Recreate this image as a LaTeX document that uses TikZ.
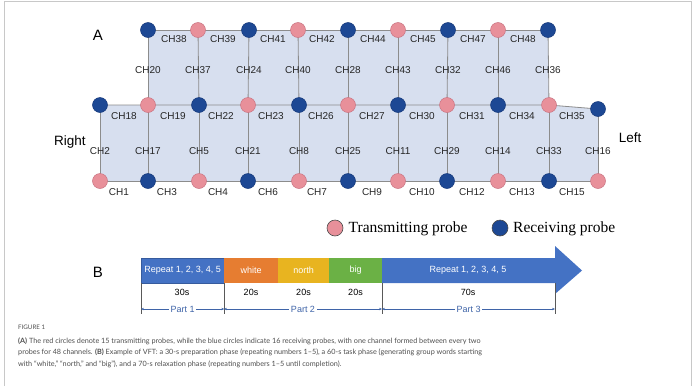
\documentclass[tikz,border=0pt]{standalone}
\usepackage{fontspec}
\setmainfont{Liberation Sans}
\newfontfamily\legfont{Liberation Serif}
\newfontfamily\capfont{Lato}
\usetikzlibrary{arrows.meta}
\definecolor{pinkc}{HTML}{E8909A}
\definecolor{pinkd}{HTML}{C97482}
\definecolor{bluec}{HTML}{1D4894}
\definecolor{blued}{HTML}{15387A}
\definecolor{regfill}{HTML}{D7DFEF}
\definecolor{gridline}{HTML}{8C8C8C}
\definecolor{barblue}{HTML}{4472C4}
\definecolor{barorange}{HTML}{E67D31}
\definecolor{baryellow}{HTML}{E8B420}
\definecolor{bargreen}{HTML}{6BB145}
\definecolor{partblue}{HTML}{3F64A8}
\definecolor{capgray}{HTML}{4E4E4E}
\definecolor{framegray}{HTML}{C8C8C8}
\pgfdeclarelayer{background}
\pgfsetlayers{background,main}
\tikzset{
  tx/.style={circle, fill=pinkc, draw=pinkd, line width=0.5pt, minimum size=15pt, inner sep=0pt},
  rx/.style={circle, fill=bluec, draw=blued, line width=0.5pt, minimum size=15pt, inner sep=0pt},
  chlab/.style={font=\fontsize{10}{12}\selectfont, inner sep=0pt, text=black!85},
  gline/.style={draw=gridline, line width=0.8pt},
  bar/.style={minimum height=25pt, inner sep=0pt, anchor=west, text=white, font=\fontsize{9}{11}\selectfont},
  tlab/.style={font=\fontsize{9}{11}\selectfont, inner sep=0pt},
  tick/.style={draw=black!65, line width=0.6pt},
  parr/.style={draw=partblue, line width=0.45pt, {Stealth[length=3pt,width=2.4pt]}-{Stealth[length=3pt,width=2.4pt]}},
  plab/.style={fill=white, text=partblue, font=\fontsize{9}{11}\selectfont, inner sep=1.5pt},
  caplab/.style={anchor=west, inner sep=0pt, text=capgray, font=\capfont\fontsize{7.25}{8.5}\selectfont},
  legtext/.style={anchor=west, inner sep=0pt, font=\legfont\fontsize{15.5}{18}\selectfont},
}
\begin{document}
\begin{tikzpicture}[x=1pt,y=-1pt]
\useasboundingbox (0,0) rectangle (693,386);
\draw[framegray, line width=0.8pt] (4,386) -- (4,1.5) -- (691,1.5) -- (691,386);

% ---------- A: probes ----------
\node[font=\fontsize{15}{18}\selectfont, inner sep=0pt] (labA) at (98,35) {A};
\node[font=\fontsize{13.5}{16}\selectfont, inner sep=0pt] (labR) at (70,142) {Right};
\node[font=\fontsize{13.5}{16}\selectfont, inner sep=0pt] (labL) at (630,138) {Left};

\foreach \x/\s [count=\i] in {148/rx,198/tx,249/rx,298/tx,348/rx,398/tx,448/rx,498/tx,548/rx}
  \node[\s] (u\i) at (\x,30) {};
\foreach \x/\s [count=\i] in {100/rx,148/tx,199/rx,248/tx,299/rx,348/tx,398/rx,447/tx,498/rx,549/tx}
  \node[\s] (m\i) at (\x,105) {};
\node[rx] (m11) at (598,109) {};
\foreach \x/\s [count=\i] in {100/tx,148/rx,199/tx,248/rx,299/tx,348/rx,398/tx,447/rx,498/tx,549/rx,598/tx}
  \node[\s] (b\i) at (\x,181) {};

\begin{pgfonlayer}{background}
  \fill[regfill] (u1.center) -- (u9.center) -- (m10.center) -- (m11.center) -- (b11.center)
     -- (b1.center) -- (m1.center) -- (m2.center) -- cycle;
  \draw[gline] (u1.center) -- (u9.center);
  \draw[gline] (m1.center) -- (m10.center) -- (m11.center);
  \draw[gline] (b1.center) -- (b11.center);
  \foreach \i [evaluate=\i as \j using int(\i+1)] in {1,...,9}
    \draw[gline] (u\i.center) -- (m\j.center);
  \foreach \i in {1,...,11}
    \draw[gline] (m\i.center) -- (b\i.center);
\end{pgfonlayer}

% vertical channel labels
\foreach \x/\t [count=\i] in {148/CH20,198/CH37,249/CH24,298/CH40,348/CH28,398/CH43,448/CH32,498/CH46,548/CH36}
  \node[chlab] (vu\i) at (\x,70) {\t};
\foreach \x/\t [count=\i] in {100/CH2,148/CH17,199/CH5,248/CH21,299/CH8,348/CH25,398/CH11,447/CH29,498/CH14,549/CH33,598/CH16}
  \node[chlab] (vb\i) at (\x,151) {\t};
% horizontal channel labels
\foreach \x/\t [count=\i] in {174/CH38,223/CH39,273/CH41,322/CH42,373/CH44,423/CH45,473/CH47,523/CH48}
  \node[chlab] (hu\i) at (\x,39) {\t};
\foreach \x/\t [count=\i] in {124/CH18,173/CH19,221/CH22,271/CH23,321/CH26,372/CH27,422/CH30,472/CH31,522/CH34,572/CH35}
  \node[chlab] (hm\i) at (\x,116) {\t};
\foreach \x/\t [count=\i] in {119/CH1,167/CH3,218/CH4,268/CH6,317/CH7,372/CH9,422/CH10,472/CH12,522/CH13,572/CH15}
  \node[chlab] (hb\i) at (\x,192) {\t};

% legend
\node[tx, minimum size=16pt, draw=black!70, line width=0.6pt] (legT) at (335,228) {};
\node[legtext] (legTt) at (348.5,228.5) {Transmitting probe};
\node[rx, minimum size=16pt, draw=black!70, line width=0.6pt] (legR) at (500,228) {};
\node[legtext] (legRt) at (513,228.5) {Receiving probe};

% ---------- B: timeline ----------
\node[font=\fontsize{15}{18}\selectfont, inner sep=0pt] (labB) at (98,272) {B};
\node[bar, fill=barblue, draw=barblue!80!black, line width=0.3pt, minimum width=83pt] (p1) at (141,270.5) {Repeat 1, 2, 3, 4, 5};
\node[bar, fill=barorange, minimum width=54pt] (p2) at (224,270.5) {white};
\node[bar, fill=baryellow, minimum width=51pt] (p3) at (278,270.5) {north};
\node[bar, fill=bargreen, minimum width=53pt] (p4) at (329,270.5) {big};
\fill[barblue] (382,258) -- (555,258) -- (555,246) -- (582,270.5) -- (555,294) -- (555,283) -- (382,283) -- cycle;
\node[text=white, font=\fontsize{9}{11}\selectfont, inner sep=0pt] (p5) at (468,270.5) {Repeat 1, 2, 3, 4, 5};
\coordinate (p5sw) at (382,283);
\coordinate (p5se) at (555,283);

\node[tlab] (d1) at (182,292.5) {30s};
\node[tlab] (d2) at (251,292.5) {20s};
\node[tlab] (d3) at (303.5,292.5) {20s};
\node[tlab] (d4) at (355.5,292.5) {20s};
\node[tlab] (d5) at (468,292.5) {70s};

\draw[tick] (p1.south west) -- ++(0,31);
\draw[tick] (p1.south east) -- ++(0,31);
\draw[tick] (p5sw) -- ++(0,31);
\draw[tick] (p5se) -- ++(0,31);

\draw[parr] (p1.south west |- 0,309) -- (p1.south east |- 0,309) node[plab, midway] (pt1) {Part 1};
\draw[parr] (p2.south west |- 0,309) -- (p5sw |- 0,309) node[plab, midway] (pt2) {Part 2};
\draw[parr] (p5sw |- 0,309) -- (p5se |- 0,309) node[plab, midway] (pt3) {Part 3};

% ---------- caption ----------
\node[caplab, font=\capfont\fontsize{6.2}{7}\selectfont] (fig) at (18,327.5) {FIGURE 1};
\node[caplab] (c1) at (18,341) {\textbf{(A)} The red circles denote 15 transmitting probes, while the blue circles indicate 16 receiving probes, with one channel formed between every two};
\node[caplab] (c2) at (18,352.5) {probes for 48 channels. \textbf{(B)} Example of VFT: a 30-s preparation phase (repeating numbers 1–5), a 60-s task phase (generating group words starting};
\node[caplab] (c3) at (18,364) {with “white,” “north,” and “big”), and a 70-s relaxation phase (repeating numbers 1–5 until completion).};
\end{tikzpicture}
\end{document}
